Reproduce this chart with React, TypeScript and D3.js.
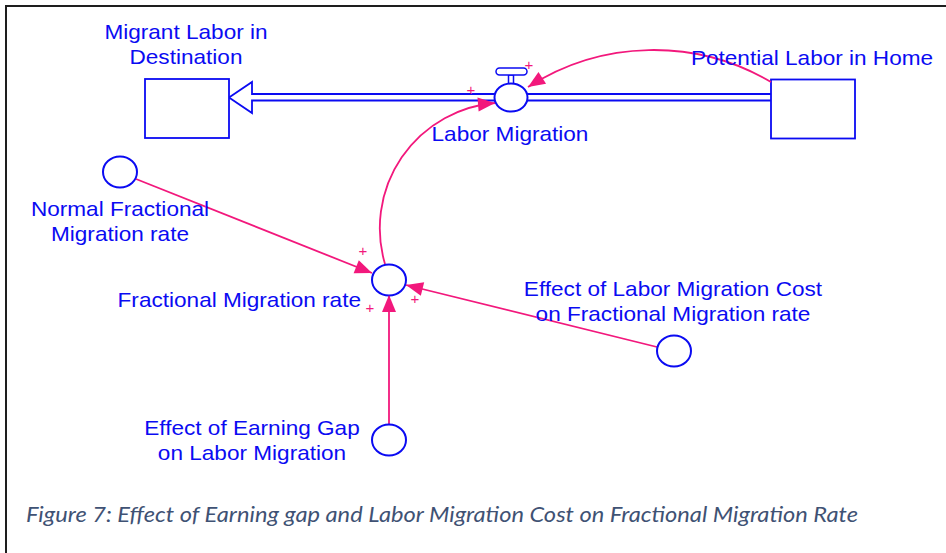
import React, { useRef, useEffect } from "react";
import * as d3 from "d3";

const W = 946;
const H = 553;

// texts of the diagram
const stockLabels = [["Migrant Labor in", "Destination"], ["Potential Labor in Home"]];
const flowLabels = [["Labor Migration"]];
const auxLabels = [
  ["Normal Fractional", "Migration rate"],
  ["Fractional Migration rate"],
  ["Effect of Labor Migration Cost", "on Fractional Migration rate"],
  ["Effect of Earning Gap", "on Labor Migration"],
];
const polarities = ["+", "+", "+", "+", "+"];
const caption = "Figure 7: Effect of Earning gap and Labor Migration Cost on Fractional Migration Rate";

// layout (pixel positions in the figure)
const stockPos: [number, number][] = [[187, 108.5], [813, 109]];
const stockLabelPos: [number, number, string][] = [[186, 39, "middle"], [812, 65, "middle"]];
const valvePos: [number, number] = [511, 97.5];
const flowLabelPos: [number, number, string][] = [[510, 141, "middle"]];
const auxPos: [number, number][] = [[120, 172], [389, 280], [674, 351], [389, 440]];
const auxLabelPos: [number, number, string][] = [
  [120, 216, "middle"],
  [361, 307, "end"],
  [673, 296, "middle"],
  [252, 435, "middle"],
];
// curved links: start, through, end (tip)
const curvedLinks: [number, number][][] = [
  [[771, 82], [655, 50], [528, 87]],
  [[385, 264], [416, 140], [495, 103]],
];
// straight links: start, tip
const straightLinks: [number, number][][] = [
  [[136, 179], [372, 273]],
  [[657, 347], [406, 285]],
  [[389, 424], [389, 295]],
];
const polarityPos: [number, number][] = [[471, 90], [529, 65], [363, 251], [415, 299], [370, 308]];

const BLUE = "#0b0bf2";
const PINK = "#f2187c";

function arcThrough(p1: [number, number], p2: [number, number], p3: [number, number]) {
  const [x1, y1] = p1, [x2, y2] = p2, [x3, y3] = p3;
  const d = 2 * (x1 * (y2 - y3) + x2 * (y3 - y1) + x3 * (y1 - y2));
  const s1 = x1 * x1 + y1 * y1, s2 = x2 * x2 + y2 * y2, s3 = x3 * x3 + y3 * y3;
  const ux = (s1 * (y2 - y3) + s2 * (y3 - y1) + s3 * (y1 - y2)) / d;
  const uy = (s1 * (x3 - x2) + s2 * (x1 - x3) + s3 * (x2 - x1)) / d;
  const r = Math.hypot(x1 - ux, y1 - uy);
  const cw = (x2 - x1) * (y3 - y1) - (y2 - y1) * (x3 - x1) > 0;
  const a1 = Math.atan2(y1 - uy, x1 - ux);
  const a3 = Math.atan2(y3 - uy, x3 - ux);
  const p = d3.path();
  p.moveTo(x1, y1);
  p.arc(ux, uy, r, a1, a3, !cw);
  const dir: [number, number] = cw ? [-Math.sin(a3), Math.cos(a3)] : [Math.sin(a3), -Math.cos(a3)];
  return { d: p.toString(), dir };
}

function arrowHead(tip: [number, number], dir: [number, number], len = 17, half = 7) {
  const [dx, dy] = dir;
  const bx = tip[0] - dx * len, by = tip[1] - dy * len;
  const nx = -dy, ny = dx;
  return `M${tip[0]},${tip[1]}L${bx + nx * half},${by + ny * half}L${bx - nx * half},${by - ny * half}Z`;
}

const App = () => {
  const ref = useRef<SVGSVGElement>(null);

  useEffect(() => {
    const svg = d3.select(ref.current);
    svg.selectAll("*").remove();

    // frame
    svg.append("path")
      .attr("d", `M6,${H}V6H${W}`)
      .attr("fill", "none")
      .attr("stroke", "#1e1e1e")
      .attr("stroke-width", 2);

    // flow pipe with outlined arrow into the left stock
    const [vx, vy] = valvePos;
    const left = stockPos[0][0] + 42, right = stockPos[1][0] - 42;
    svg.append("path")
      .attr("d", `M${right},${vy - 3.5}H${left + 23}V${vy - 15.5}L${left},${vy}L${left + 23},${vy + 15.5}V${vy + 3}H${right}`)
      .attr("fill", "#fff")
      .attr("stroke", BLUE)
      .attr("stroke-width", 1.8);

    // stocks
    svg.selectAll("rect.stock")
      .data(stockPos)
      .enter()
      .append("rect")
      .attr("class", "stock")
      .attr("x", d => d[0] - 42)
      .attr("y", d => d[1] - 29.5)
      .attr("width", 84)
      .attr("height", 59)
      .attr("fill", "#fff")
      .attr("stroke", BLUE)
      .attr("stroke-width", 1.8);

    // links
    const arcs = curvedLinks.map(l => arcThrough(l[0], l[1], l[2]));
    svg.selectAll("path.arc")
      .data(arcs)
      .enter()
      .append("path")
      .attr("class", "arc")
      .attr("d", d => d.d)
      .attr("fill", "none")
      .attr("stroke", PINK)
      .attr("stroke-width", 1.8);

    svg.selectAll("line.link")
      .data(straightLinks)
      .enter()
      .append("line")
      .attr("class", "link")
      .attr("x1", d => d[0][0])
      .attr("y1", d => d[0][1])
      .attr("x2", d => d[1][0])
      .attr("y2", d => d[1][1])
      .attr("stroke", PINK)
      .attr("stroke-width", 1.8);

    // valve
    svg.append("rect")
      .attr("x", vx - 2.5).attr("y", vy - 22.5).attr("width", 5).attr("height", 9)
      .attr("fill", "#fff").attr("stroke", BLUE).attr("stroke-width", 1.5);
    svg.append("rect")
      .attr("x", vx - 15).attr("y", vy - 29.5).attr("width", 31).attr("height", 7).attr("rx", 3.5)
      .attr("fill", "#fff").attr("stroke", BLUE).attr("stroke-width", 1.5);
    svg.append("ellipse")
      .attr("cx", vx).attr("cy", vy).attr("rx", 16.5).attr("ry", 14)
      .attr("fill", "#fff").attr("stroke", BLUE).attr("stroke-width", 2);

    // auxiliaries
    svg.selectAll("ellipse.aux")
      .data(auxPos)
      .enter()
      .append("ellipse")
      .attr("class", "aux")
      .attr("cx", d => d[0])
      .attr("cy", d => d[1])
      .attr("rx", 17)
      .attr("ry", 15.5)
      .attr("fill", "#fff")
      .attr("stroke", BLUE)
      .attr("stroke-width", 2);

    // arrow heads
    const heads = [
      ...curvedLinks.map((l, i) => arrowHead(l[2], arcs[i].dir)),
      ...straightLinks.map(l => {
        const dx = l[1][0] - l[0][0], dy = l[1][1] - l[0][1];
        const n = Math.hypot(dx, dy);
        return arrowHead(l[1], [dx / n, dy / n]);
      }),
    ];
    svg.selectAll("path.head")
      .data(heads)
      .enter()
      .append("path")
      .attr("class", "head")
      .attr("d", d => d)
      .attr("fill", PINK);

    // labels
    const labels = [
      ...stockLabels.map((t, i) => ({ lines: t, pos: stockLabelPos[i] })),
      ...flowLabels.map((t, i) => ({ lines: t, pos: flowLabelPos[i] })),
      ...auxLabels.map((t, i) => ({ lines: t, pos: auxLabelPos[i] })),
    ];
    labels.forEach(lb => {
      lb.lines.forEach((line, j) => {
        const t = svg.append("text")
          .attr("x", lb.pos[0])
          .attr("y", lb.pos[1] + j * 25)
          .attr("text-anchor", lb.pos[2])
          .attr("font-family", "'Liberation Sans', Arial, sans-serif")
          .attr("font-size", 21)
          .attr("fill", BLUE)
          .text(line);
        const w = (t.node() as SVGTextElement).getComputedTextLength();
        t.attr("textLength", w * 1.075).attr("lengthAdjust", "spacingAndGlyphs");
      });
    });

    // polarity signs
    svg.selectAll("text.pol")
      .data(polarities)
      .enter()
      .append("text")
      .attr("class", "pol")
      .attr("x", (d, i) => polarityPos[i][0])
      .attr("y", (d, i) => polarityPos[i][1] + 5)
      .attr("text-anchor", "middle")
      .attr("font-family", "'Liberation Sans', Arial, sans-serif")
      .attr("font-size", 15)
      .attr("fill", PINK)
      .text(d => d);

    // caption
    svg.append("text")
      .attr("x", 26)
      .attr("y", 522)
      .attr("font-family", "Lato, 'Open Sans', sans-serif")
      .attr("font-style", "italic")
      .attr("font-size", 21)
      .attr("fill", "#3f5274")
      .attr("textLength", 832)
      .attr("lengthAdjust", "spacingAndGlyphs")
      .text(caption);
  }, []);

  return (
    <svg
      ref={ref}
      width={W}
      height={H}
      style={{ position: "absolute", left: 0, top: 0, background: "#fff", display: "block" }}
    />
  );
};

export default App;
